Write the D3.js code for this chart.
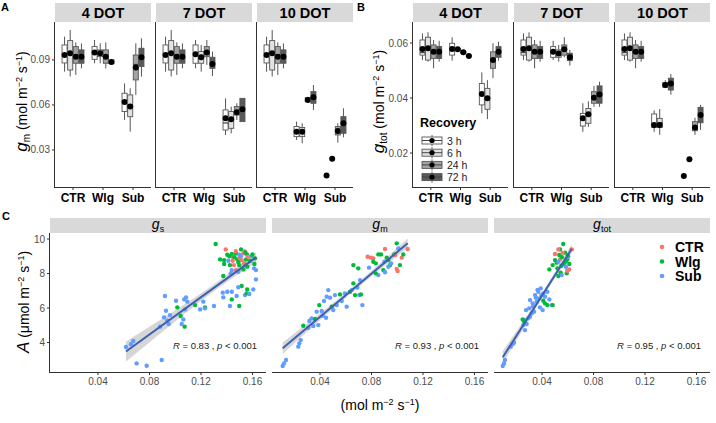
<!DOCTYPE html>
<html><head><meta charset="utf-8">
<script src="https://cdn.jsdelivr.net/npm/d3@7"></script>
<style>body{margin:0;background:#fff}text{font-family:"Liberation Sans",Arial,sans-serif}</style>
</head><body><svg id="c" width="716" height="423" xmlns="http://www.w3.org/2000/svg"></svg>
<script>
const doses=["4 DOT","7 DOT","10 DOT"];
const treatments=["CTR","Wlg","Sub"];
const recovery=["3 h","6 h","24 h","72 h"];
const recoveryFill=["#FFFFFF","#E3E3E3","#A3A3A3","#5A5A5A"];
const gmTicks=[0.03,0.06,0.09];
const gtotTicks=[0.02,0.04,0.06];
// rows: [lo, q1, median, q3, hi, mean] per recovery level
const gmCTR=[[0.0822,0.088,0.0925,0.100,0.1055,0.0933],[0.079,0.0833,0.094,0.1029,0.110,0.0944],[0.080,0.0878,0.0935,0.0989,0.1017,0.0922],[0.0844,0.0878,0.092,0.0967,0.101,0.0922]];
const gmWlg={"4 DOT":[[0.0878,0.0904,0.0945,0.0989,0.1033,0.0949],[0.0878,0.0922,0.094,0.0967,0.1011,0.0944],[0.0844,0.0878,0.092,0.0967,0.1017,0.0922],[0.0873,0.0875,0.0887,0.090,0.0902,0.0887]],
"7 DOT":[[0.0844,0.0878,0.094,0.100,0.1033,0.0938],[0.0822,0.0878,0.093,0.0956,0.100,0.0918],[0.0867,0.0922,0.095,0.0989,0.1033,0.0949],[0.0793,0.0844,0.087,0.0918,0.0956,0.0873]],
"10 DOT":[[0.0367,0.0389,0.042,0.0456,0.0489,0.0422],[0.0344,0.0389,0.043,0.045,0.0478,0.0422],[0.0617,0.0622,0.0635,0.0649,0.0655,0.0633],[0.0567,0.0611,0.065,0.0689,0.0733,0.0651]]};
const gmSub={"4 DOT":[[0.050,0.0556,0.062,0.0678,0.0744,0.0620],[0.0422,0.0522,0.060,0.0667,0.0711,0.0589],[0.0667,0.0767,0.087,0.0933,0.1011,0.0849],[0.0789,0.0856,0.092,0.0978,0.1044,0.0918]],
"7 DOT":[[0.040,0.0433,0.048,0.0567,0.0644,0.0511],[0.0411,0.0444,0.050,0.0556,0.0589,0.0504],[0.050,0.0533,0.055,0.0589,0.0611,0.0551],[0.0489,0.0489,0.056,0.0644,0.0644,0.0571]],
"10 DOT":[[0.0129,0.0129,0.0129,0.0129,0.0129,0.0129],[0.0242,0.0242,0.0242,0.0242,0.0242,0.0242],[0.0349,0.040,0.043,0.0456,0.0478,0.0427],[0.0384,0.0411,0.047,0.0522,0.0578,0.0478]]};
const gtotCTR=[[0.0538,0.0556,0.0565,0.0611,0.0635,0.0578],[0.0532,0.0538,0.058,0.0621,0.0639,0.0581],[0.0508,0.0544,0.057,0.0593,0.0611,0.0568],[0.0532,0.0544,0.0565,0.0587,0.0608,0.0568]];
const gtotWlg={"4 DOT":[[0.0536,0.0556,0.0575,0.0599,0.0621,0.0578],[0.0572,0.0574,0.0577,0.058,0.0582,0.0577],[0.0561,0.0563,0.0566,0.0569,0.0571,0.0566],[0.0549,0.0551,0.0553,0.0555,0.0557,0.0553]],
"7 DOT":[[0.0538,0.0548,0.057,0.0587,0.0608,0.0568],[0.0532,0.0548,0.056,0.0575,0.0593,0.0562],[0.0548,0.0556,0.0575,0.0593,0.0621,0.0577],[0.0518,0.0536,0.055,0.0563,0.0575,0.0548]],
"10 DOT":[[0.0277,0.0293,0.030,0.0342,0.0355,0.0302],[0.0266,0.0293,0.031,0.0326,0.036,0.0302],[0.0436,0.0439,0.0448,0.0456,0.0465,0.0447],[0.0412,0.0429,0.045,0.0472,0.0487,0.0453]]};
const gtotSub={"4 DOT":[[0.0344,0.0375,0.041,0.0453,0.0493,0.0415],[0.0323,0.0359,0.040,0.0435,0.0465,0.0399],[0.0472,0.0508,0.054,0.0568,0.0599,0.0538],[0.0536,0.0548,0.0565,0.0587,0.0605,0.0568]],
"7 DOT":[[0.0277,0.0298,0.032,0.0344,0.0381,0.0326],[0.0295,0.0308,0.034,0.0362,0.0388,0.0341],[0.0368,0.0381,0.040,0.0423,0.0444,0.0401],[0.0368,0.0381,0.041,0.0444,0.0459,0.0413]],
"10 DOT":[[0.0116,0.0116,0.0116,0.0116,0.0116,0.0116],[0.0177,0.0177,0.0177,0.0177,0.0177,0.0177],[0.0266,0.0281,0.029,0.0314,0.0328,0.0293],[0.0284,0.031,0.0335,0.0366,0.0375,0.0338]]};

// Panel C: conductance vs A
const groups=["CTR","Wlg","Sub"];
const groupColor=["#F8766D","#00BA38","#619CFF"];
const facetsC=["s","m","tot"];
const xTicksC=[0.04,0.08,0.12,0.16];
const yTicksC=[4,6,8,10];
const rLabels=["0.83","0.93","0.95"];
const gsPts=[[0.1314,9.71,"Wlg"],[0.1392,9.40,"CTR"],[0.1511,9.40,"Wlg"],[0.1404,9.09,"Wlg"],[0.1439,9.13,"Wlg"],[0.1472,9.17,"Wlg"],[0.1529,9.17,"CTR"],[0.1559,9.09,"Wlg"],[0.1497,9.09,"Sub"],[0.1594,9.01,"Sub"],[0.1348,8.82,"Wlg"],[0.1379,8.78,"Wlg"],[0.1412,8.74,"Sub"],[0.1446,8.74,"CTR"],[0.1482,8.82,"Wlg"],[0.1516,8.78,"CTR"],[0.1550,8.82,"Wlg"],[0.1581,8.74,"Wlg"],[0.1620,8.88,"Wlg"],[0.1456,8.49,"CTR"],[0.1425,8.49,"Wlg"],[0.1497,8.49,"Wlg"],[0.1542,8.49,"Sub"],[0.1472,8.20,"CTR"],[0.1439,8.20,"Sub"],[0.1529,8.24,"Wlg"],[0.1612,8.30,"Sub"],[0.1627,8.20,"Sub"],[0.1490,8.10,"Sub"],[0.1373,7.86,"Wlg"],[0.1431,8.01,"Sub"],[0.1627,7.66,"Sub"],[0.1516,7.28,"Wlg"],[0.1490,7.20,"Sub"],[0.1439,6.94,"Sub"],[0.1559,7.08,"Wlg"],[0.1606,7.08,"Sub"],[0.1369,6.89,"Sub"],[0.1404,6.94,"Sub"],[0.1373,6.62,"Sub"],[0.1439,6.50,"Wlg"],[0.1477,6.70,"Sub"],[0.1542,6.75,"Sub"],[0.1555,6.85,"Wlg"],[0.1575,6.81,"Sub"],[0.1497,6.12,"Wlg"],[0.1425,6.12,"Sub"],[0.1301,6.12,"Sub"],[0.1231,6.04,"Wlg"],[0.1193,5.92,"Sub"],[0.1154,6.17,"Wlg"],[0.1084,6.62,"Sub"],[0.1070,6.50,"Sub"],[0.1094,6.37,"Sub"],[0.1006,6.42,"Sub"],[0.0920,6.70,"Sub"],[0.1016,6.04,"Wlg"],[0.1076,5.92,"Sub"],[0.0928,5.84,"Sub"],[0.0959,5.59,"Sub"],[0.1042,5.54,"Wlg"],[0.1063,5.34,"Sub"],[0.0913,5.46,"Sub"],[0.0938,5.26,"Sub"],[0.0949,5.07,"Sub"],[0.0882,4.92,"Sub"],[0.1073,4.92,"Wlg"],[0.1050,5.07,"Sub"],[0.0895,2.99,"Sub"],[0.1218,6.37,"Sub"],[0.1231,5.98,"Sub"],[0.0617,3.74,"Sub"],[0.0656,3.90,"Sub"],[0.0674,4.09,"Sub"],[0.0700,2.79,"Sub"],[0.0778,2.65,"Sub"],
[0.1450,8.95,"CTR"],[0.1500,8.90,"CTR"],[0.1535,8.60,"CTR"],[0.1565,8.98,"CTR"],[0.1540,9.28,"CTR"],[0.1490,8.65,"Wlg"],[0.1460,8.95,"Wlg"],[0.1545,9.22,"Wlg"],[0.1600,9.10,"Wlg"],[0.1615,8.55,"Wlg"],[0.1560,8.40,"Wlg"],[0.1420,9.00,"Wlg"],[0.1380,8.55,"Wlg"],[0.1510,9.00,"Sub"],[0.1470,9.30,"CTR"]];
const gmPts=[[0.0110,2.64,"Sub"],[0.0120,2.79,"Sub"],[0.0136,2.99,"Sub"],[0.0231,3.76,"Sub"],[0.0239,3.95,"Sub"],[0.0250,4.14,"Sub"],[0.0270,4.97,"Wlg"],[0.0317,5.25,"Sub"],[0.0335,5.40,"Sub"],[0.0348,4.96,"Sub"],[0.0374,5.79,"Sub"],[0.0394,6.17,"Wlg"],[0.0413,5.83,"Sub"],[0.0421,5.55,"Sub"],[0.0431,6.41,"Sub"],[0.0452,6.66,"Sub"],[0.0464,7.04,"Sub"],[0.0478,6.60,"Sub"],[0.0491,6.08,"Wlg"],[0.0503,5.88,"Sub"],[0.0516,6.75,"Sub"],[0.0530,6.17,"Sub"],[0.0555,6.79,"Wlg"],[0.0569,6.41,"Sub"],[0.0594,6.85,"Sub"],[0.0607,6.08,"Sub"],[0.0633,6.94,"Wlg"],[0.0646,7.04,"Sub"],[0.0659,7.43,"Wlg"],[0.0672,6.75,"Wlg"],[0.0690,7.18,"Sub"],[0.0705,6.75,"Sub"],[0.0711,7.62,"Sub"],[0.0697,8.30,"Wlg"],[0.0659,8.49,"Wlg"],[0.0447,5.44,"Sub"],[0.0387,5.01,"Sub"],[0.0309,4.86,"Sub"],[0.0361,5.36,"Wlg"],[0.0718,6.79,"Wlg"],[0.0729,6.17,"Sub"],[0.0770,8.97,"CTR"],[0.0796,8.92,"CTR"],[0.0814,8.88,"CTR"],[0.0781,8.34,"Sub"],[0.0814,8.68,"Wlg"],[0.0833,8.59,"Wlg"],[0.0853,9.11,"Wlg"],[0.0874,9.11,"Wlg"],[0.0905,9.42,"CTR"],[0.0918,8.92,"Wlg"],[0.0931,8.78,"Wlg"],[0.0900,8.68,"Sub"],[0.0944,8.49,"Wlg"],[0.0892,8.20,"Wlg"],[0.0853,7.91,"Sub"],[0.0833,8.01,"Wlg"],[0.0905,8.07,"Sub"],[0.0977,9.11,"Wlg"],[0.0996,9.75,"Wlg"],[0.1008,9.46,"Sub"],[0.0983,9.07,"CTR"],[0.0996,8.26,"CTR"],[0.1003,8.14,"CTR"],[0.1021,8.49,"Wlg"],[0.1035,8.92,"CTR"],[0.1047,9.11,"Wlg"],[0.1081,9.42,"CTR"],[0.0952,8.59,"Sub"],[0.0931,8.39,"Sub"]];
const gtotPts=[[0.0095,2.64,"Sub"],[0.0105,2.79,"Sub"],[0.0112,2.99,"Sub"],[0.0157,3.76,"Sub"],[0.0172,3.91,"Sub"],[0.0182,3.99,"Sub"],[0.0255,5.01,"Sub"],[0.0268,5.30,"Sub"],[0.0281,5.07,"Sub"],[0.0293,5.40,"Sub"],[0.0307,5.50,"Sub"],[0.0276,5.88,"Sub"],[0.0301,5.98,"Sub"],[0.0320,5.69,"Sub"],[0.0338,5.79,"Sub"],[0.0307,6.46,"Sub"],[0.0328,6.27,"Sub"],[0.0359,6.37,"Sub"],[0.0379,6.56,"Sub"],[0.0346,6.75,"Sub"],[0.0371,6.94,"Sub"],[0.0390,7.14,"Sub"],[0.0410,6.85,"Sub"],[0.0423,6.66,"Sub"],[0.0441,6.94,"Sub"],[0.0457,6.50,"Sub"],[0.0405,5.88,"Sub"],[0.0384,6.04,"Sub"],[0.0475,6.17,"Sub"],[0.0268,4.72,"Sub"],[0.0250,5.34,"Wlg"],[0.0262,5.21,"Wlg"],[0.0423,6.27,"Wlg"],[0.0441,6.17,"Wlg"],[0.0410,6.42,"Wlg"],[0.0483,6.17,"Wlg"],[0.0457,8.24,"Wlg"],[0.0483,8.49,"Wlg"],[0.0501,8.78,"Wlg"],[0.0514,8.63,"Wlg"],[0.0534,9.07,"Wlg"],[0.0540,9.40,"Wlg"],[0.0565,9.71,"Wlg"],[0.0579,9.21,"Wlg"],[0.0596,8.82,"Wlg"],[0.0612,8.55,"Wlg"],[0.0571,8.55,"Wlg"],[0.0545,8.05,"Wlg"],[0.0527,7.86,"Wlg"],[0.0592,8.01,"Wlg"],[0.0501,9.13,"CTR"],[0.0527,9.40,"CTR"],[0.0631,9.40,"CTR"],[0.0612,8.24,"CTR"],[0.0596,8.16,"CTR"],[0.0540,8.82,"CTR"],[0.0553,7.91,"Sub"],[0.0586,8.39,"Sub"],[0.0527,8.68,"Sub"],[0.0604,8.97,"Sub"],
[0.0555,8.95,"Wlg"],[0.0560,9.20,"CTR"],[0.0585,8.70,"Wlg"],[0.0550,8.45,"Wlg"],[0.0600,9.05,"Wlg"],[0.0520,8.30,"Wlg"],[0.0365,7.05,"Sub"],[0.0352,6.60,"Sub"],[0.0395,6.75,"Sub"],[0.0330,6.10,"Sub"]];

const svg=d3.select("#c");
const STRIP="#D9D9D9", AX="#333333", TICKTXT="#4D4D4D";

function supTitle(g,x,y,rot,parts,anchor){
  const t=g.append("text").attr("transform",`translate(${x},${y}) rotate(${rot})`).attr("text-anchor",anchor||"middle").attr("fill","#000");
  parts.forEach(p=>{const s=t.append("tspan").text(p.t).attr("font-size",p.fs||14);
    if(p.it) s.attr("font-style","italic"); if(p.dy) s.attr("dy",p.dy);});
  return t;
}

function boxPanel(originX, facetLefts, W, top, bottom, yDomain, ticks, stats, panelLabel, titleParts, titleX){
  const g=svg.append("g");
  const y=d3.scaleLinear().domain(yDomain).range([bottom,top]);
  g.append("text").attr("x",originX).attr("y",11).attr("font-size",11).attr("font-weight","bold").text(panelLabel);
  doses.forEach((dose,di)=>{
    const L=facetLefts[di];
    const f=g.append("g").attr("transform",`translate(${L},0)`);
    f.append("rect").attr("x",0).attr("y",3).attr("width",W).attr("height",top-3).attr("fill",STRIP);
    f.append("text").attr("x",W/2).attr("y",top-4).attr("text-anchor","middle").attr("font-size",14.5).attr("font-weight","bold").text(dose);
    const x=d3.scalePoint().domain(treatments).range([0,W]).padding(0.6);
    const step=x.step();
    const sub=d3.scaleBand().domain(recovery).range([-0.375*step,0.375*step]);
    const bw=sub.bandwidth()*0.9;
    treatments.forEach(tr=>{
      const arr=stats[tr][dose];
      recovery.forEach((rc,ri)=>{
        const s=arr[ri];
        const cx=x(tr)+sub(rc)+sub.bandwidth()/2;
        if(s[4]-s[0]>0.0003){
          f.append("line").attr("x1",cx).attr("x2",cx).attr("y1",y(s[4])).attr("y2",y(s[3])).attr("stroke","#555").attr("stroke-width",1);
          f.append("line").attr("x1",cx).attr("x2",cx).attr("y1",y(s[1])).attr("y2",y(s[0])).attr("stroke","#555").attr("stroke-width",1);
          f.append("rect").attr("x",cx-bw/2).attr("width",bw).attr("y",y(s[3])).attr("height",Math.max(0.5,y(s[1])-y(s[3])))
            .attr("fill",recoveryFill[ri]).attr("stroke","#555").attr("stroke-width",0.9);
          f.append("line").attr("x1",cx-bw/2).attr("x2",cx+bw/2).attr("y1",y(s[2])).attr("y2",y(s[2])).attr("stroke","#444").attr("stroke-width",1.2);
        }
        f.append("circle").attr("cx",cx).attr("cy",y(s[5])).attr("r",3).attr("fill","#000");
      });
    });
    f.append("line").attr("x1",0).attr("x2",W).attr("y1",bottom+0.5).attr("y2",bottom+0.5).attr("stroke",AX);
    treatments.forEach(tr=>{
      f.append("line").attr("x1",x(tr)).attr("x2",x(tr)).attr("y1",bottom).attr("y2",bottom+3).attr("stroke",AX);
      f.append("text").attr("x",x(tr)).attr("y",bottom+15).attr("text-anchor","middle").attr("font-size",12).attr("font-weight","bold").text(tr);
    });
    f.append("line").attr("x1",-0.5).attr("x2",-0.5).attr("y1",top).attr("y2",bottom+1).attr("stroke",AX);
    if(di===0){
      ticks.forEach(t=>{
        f.append("line").attr("x1",-3).attr("x2",0).attr("y1",y(t)).attr("y2",y(t)).attr("stroke",AX);
        f.append("text").attr("x",-5).attr("y",y(t)+3.5).attr("text-anchor","end").attr("font-size",10).attr("fill",TICKTXT).text(d3.format(".2f")(t));
      });
    }
  });
  supTitle(g,titleX,(top+bottom)/2-3,-90,titleParts);
  return y;
}

const gmStats={CTR:{"4 DOT":gmCTR,"7 DOT":gmCTR,"10 DOT":gmCTR},Wlg:gmWlg,Sub:gmSub};
const gtotStats={CTR:{"4 DOT":gtotCTR,"7 DOT":gtotCTR,"10 DOT":gtotCTR},Wlg:gtotWlg,Sub:gtotSub};

boxPanel(1,[55,156,257],96,22,187,[0.0053,0.1153],gmTicks,gmStats,"A",
 [{t:"g",it:1,fs:17},{t:"m",fs:10,dy:3},{t:" (mol m",fs:14,dy:-3},{t:"−2",fs:9,dy:-5},{t:" s",fs:14,dy:5},{t:"−1",fs:9,dy:-5},{t:")",fs:14,dy:5}],27);
boxPanel(357,[413,514,615],95,22,187,[0.00764,0.06764],gtotTicks,gtotStats,"B",
 [{t:"g",it:1,fs:17},{t:"tot",fs:10,dy:3},{t:" (mol m",fs:14,dy:-3},{t:"−2",fs:9,dy:-5},{t:" s",fs:14,dy:5},{t:"−1",fs:9,dy:-5},{t:")",fs:14,dy:5}],384);

const lg=svg.append("g");
lg.append("text").attr("x",420).attr("y",127).attr("font-size",12.5).attr("font-weight","bold").text("Recovery");
recovery.forEach((rc,i)=>{
  const cy=140.5+i*12.2;
  lg.append("line").attr("x1",432).attr("x2",432).attr("y1",cy-5.5).attr("y2",cy+5.5).attr("stroke","#555");
  lg.append("rect").attr("x",422).attr("y",cy-3.5).attr("width",20).attr("height",7).attr("fill",recoveryFill[i]).attr("stroke","#555").attr("stroke-width",0.9);
  lg.append("line").attr("x1",422).attr("x2",442).attr("y1",cy).attr("y2",cy).attr("stroke","#444");
  lg.append("circle").attr("cx",432).attr("cy",cy).attr("r",2.6).attr("fill","#000");
  lg.append("text").attr("x",447).attr("y",cy+4).attr("font-size",10.5).attr("fill","#222").text(rc);
});

const cLefts=[50,272,494], cW=216, cTop=233, cBot=372;
const xC=d3.scaleLinear().domain([0.0027,0.1705]).range([0,cW]);
const yC=d3.scaleLinear().domain([2.29,10.35]).range([cBot,cTop]);
const colorC=d3.scaleOrdinal().domain(groups).range(groupColor);
const gc=svg.append("g");
gc.append("text").attr("x",2).attr("y",220).attr("font-size",11).attr("font-weight","bold").text("C");
const ptsList=[gsPts,gmPts,gtotPts];
function fit(pts){
  const n=pts.length, mx=d3.mean(pts,d=>d[0]), my=d3.mean(pts,d=>d[1]);
  let sxx=0,sxy=0; pts.forEach(d=>{sxx+=(d[0]-mx)**2; sxy+=(d[0]-mx)*(d[1]-my);});
  const b=sxy/sxx, a=my-b*mx;
  let sse=0; pts.forEach(d=>{sse+=(d[1]-a-b*d[0])**2;});
  return {a,b,mx,n,sxx,s2:sse/(n-2),min:d3.min(pts,d=>d[0]),max:d3.max(pts,d=>d[0])};
}
facetsC.forEach((fc,i)=>{
  const L=cLefts[i];
  const f=gc.append("g").attr("transform",`translate(${L},0)`);
  f.append("rect").attr("x",0).attr("y",218).attr("width",cW).attr("height",cTop-218).attr("fill",STRIP);
  const st=f.append("text").attr("x",cW/2).attr("y",229).attr("text-anchor","middle");
  st.append("tspan").text("g").attr("font-style","italic").attr("font-size",14);
  st.append("tspan").text(fc).attr("font-size",9).attr("dy",3);
  const pts=ptsList[i];
  const m=fit(pts);
  const t=1.985;
  const xs=d3.range(0,81).map(k=>m.min+(m.max-m.min)*k/80);
  const band=xs.map(x=>{const yh=m.a+m.b*x; const se=Math.sqrt(m.s2*(1/m.n+(x-m.mx)**2/m.sxx)); return [x,yh-t*se,yh+t*se];});
  f.append("path").datum(band).attr("d",d3.area().x(d=>xC(d[0])).y0(d=>yC(d[1])).y1(d=>yC(d[2]))).attr("fill","#999").attr("opacity",0.4);
  f.selectAll("circle.p").data(pts).join("circle").attr("cx",d=>xC(d[0])).attr("cy",d=>yC(d[1])).attr("r",2.2).attr("fill",d=>colorC(d[2]));
  f.append("line").attr("x1",xC(m.min)).attr("x2",xC(m.max)).attr("y1",yC(m.a+m.b*m.min)).attr("y2",yC(m.a+m.b*m.max)).attr("stroke","#3F5FB0").attr("stroke-width",2);
  const rt=f.append("text").attr("x",207).attr("y",349).attr("text-anchor","end").attr("font-size",9.5).attr("fill","#222");
  rt.append("tspan").text("R").attr("font-style","italic");
  rt.append("tspan").text(" = "+rLabels[i]+" , ");
  rt.append("tspan").text("p").attr("font-style","italic");
  rt.append("tspan").text(" < 0.001");
  f.append("line").attr("x1",0).attr("x2",cW).attr("y1",cBot+0.5).attr("y2",cBot+0.5).attr("stroke",AX);
  xTicksC.forEach(v=>{
    f.append("line").attr("x1",xC(v)).attr("x2",xC(v)).attr("y1",cBot).attr("y2",cBot+3).attr("stroke",AX);
    f.append("text").attr("x",xC(v)).attr("y",cBot+13).attr("text-anchor","middle").attr("font-size",10).attr("fill",TICKTXT).text(d3.format(".2f")(v));
  });
  if(i===0){
    f.append("line").attr("x1",-0.5).attr("x2",-0.5).attr("y1",cTop).attr("y2",cBot+1).attr("stroke",AX);
    yTicksC.forEach(v=>{
      f.append("line").attr("x1",-3).attr("x2",0).attr("y1",yC(v)).attr("y2",yC(v)).attr("stroke",AX);
      f.append("text").attr("x",-5).attr("y",yC(v)+3.5).attr("text-anchor","end").attr("font-size",10).attr("fill",TICKTXT).text(v);
    });
  }
});
groups.forEach((gname,i)=>{
  const cy=247+i*14.5;
  gc.append("circle").attr("cx",662).attr("cy",cy).attr("r",2.3).attr("fill",groupColor[i]);
  gc.append("text").attr("x",675).attr("y",cy+5).attr("font-size",14).attr("font-weight","bold").text(gname);
});
supTitle(gc,29,302,-90,[{t:"A",it:1,fs:17},{t:" (μmol m",fs:14},{t:"−2",fs:9,dy:-5},{t:" s",fs:14,dy:5},{t:"−1",fs:9,dy:-5},{t:")",fs:14,dy:5}]);
supTitle(gc,380,410,0,[{t:"(mol m",fs:14},{t:"−2",fs:9,dy:-5},{t:" s",fs:14,dy:5},{t:"−1",fs:9,dy:-5},{t:")",fs:14,dy:5}]);
</script></body></html>
